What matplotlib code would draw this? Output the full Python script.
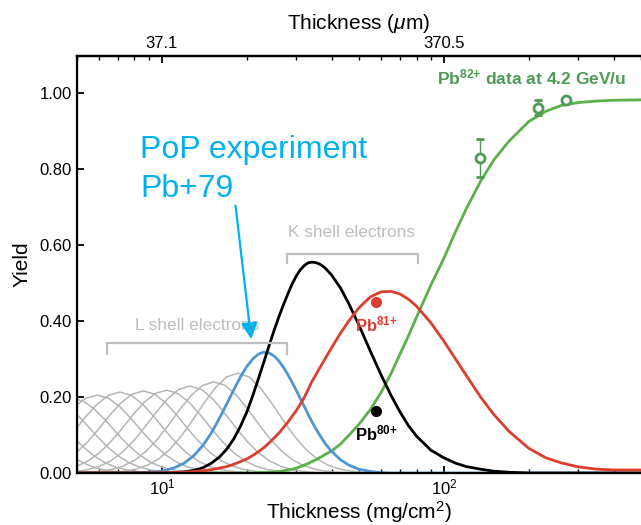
import matplotlib.pyplot as plt
from matplotlib.ticker import NullFormatter, FormatStrFormatter

plt.rcParams['font.family'] = ['Liberation Sans', 'DejaVu Sans']
plt.rcParams['mathtext.fontset'] = 'custom'
plt.rcParams['mathtext.rm'] = 'Liberation Sans'
plt.rcParams['mathtext.it'] = 'Liberation Sans:italic'
plt.rcParams['mathtext.bf'] = 'Liberation Sans:bold'

# thickness grid (mg/cm^2) the charge state curves are read at
thickness = [5, 6, 7, 8, 9, 10, 11, 12, 13, 14, 15, 16, 17, 18, 19, 20, 21, 22, 23, 24, 25, 26,
             27, 28, 29, 30, 31, 32, 33, 34, 35, 36, 37, 38, 40, 43, 46, 50, 55, 60, 65, 70, 75, 80, 90, 100,
             110, 120, 135, 150, 170, 200, 230, 260, 300, 350, 400, 500]

# Pb79+ (blue), Pb80+ (black), Pb81+ (red), Pb82+ (green) fractions
yield_79 = [0, 0, 0, 0.001, 0.002, 0.005, 0.013, 0.026, 0.046, 0.073, 0.106, 0.144, 0.182, 0.219, 0.253,
            0.280, 0.300, 0.313, 0.318, 0.316, 0.308, 0.295,
            0.278, 0.259, 0.238, 0.217, 0.195, 0.175, 0.155, 0.136, 0.119, 0.104, 0.090, 0.077, 0.057,
            0.035, 0.021, 0.010, 0.004, 0.001, 0, 0, 0, 0, 0, 0,
            0, 0, 0, 0, 0, 0, 0, 0, 0, 0, 0, 0]
yield_80 = [0, 0, 0, 0, 0, 0, 0.001, 0.003, 0.007, 0.014, 0.026, 0.042, 0.063, 0.090, 0.123,
            0.160, 0.203, 0.248, 0.292, 0.335, 0.375, 0.411,
            0.443, 0.472, 0.498, 0.519, 0.535, 0.546, 0.553, 0.555, 0.554, 0.551, 0.546, 0.539, 0.521,
            0.487, 0.446, 0.389, 0.319, 0.257, 0.204, 0.160, 0.124, 0.097, 0.060, 0.040,
            0.026, 0.017, 0.010, 0.005, 0.002, 0, 0, 0, 0, 0, 0, 0]
yield_81 = [0, 0, 0, 0, 0, 0.001, 0.001, 0.002, 0.004, 0.006, 0.009, 0.013, 0.017, 0.023, 0.030,
            0.037, 0.046, 0.056, 0.067, 0.079, 0.092, 0.105,
            0.120, 0.134, 0.150, 0.165, 0.182, 0.199, 0.219, 0.240, 0.256, 0.272, 0.287, 0.302, 0.330,
            0.368, 0.400, 0.435, 0.464, 0.477, 0.478, 0.471, 0.457, 0.439, 0.395, 0.347,
            0.300, 0.257, 0.200, 0.155, 0.110, 0.065, 0.040, 0.027, 0.016, 0.010, 0.008, 0.008]
yield_82 = [0, 0, 0, 0, 0, 0, 0, 0, 0, 0, 0, 0, 0, 0, 0,
            0, 0, 0.001, 0.001, 0.002, 0.003, 0.004,
            0.006, 0.008, 0.010, 0.013, 0.017, 0.021, 0.025, 0.030, 0.034, 0.039, 0.044, 0.049, 0.058,
            0.076, 0.099, 0.128, 0.168, 0.213, 0.262, 0.314, 0.362, 0.410, 0.495, 0.565,
            0.635, 0.695, 0.768, 0.823, 0.873, 0.925, 0.952, 0.967, 0.975, 0.979, 0.981, 0.982]

# L shell (grey) curves: peak thickness, peak height and one shared shape
gray_peaks = [2.75, 3.3, 4.0, 4.8, 5.9, 7.1, 8.6, 10.4, 12.6, 15.3, 18.6]
gray_heights = [0.19, 0.19, 0.195, 0.197, 0.205, 0.213, 0.216, 0.218, 0.229, 0.240, 0.263]
gray_offset = [-0.48, -0.44, -0.40, -0.36, -0.32, -0.28, -0.24, -0.20, -0.16, -0.12, -0.08, -0.04, 0,
               0.04, 0.08, 0.12, 0.16, 0.20, 0.24, 0.28, 0.32, 0.36, 0.40, 0.44, 0.48]  # decades
gray_shape = [0.003, 0.008, 0.019, 0.040, 0.079, 0.143, 0.240, 0.371, 0.530, 0.700, 0.853, 0.961, 1.0,
              0.961, 0.853, 0.700, 0.530, 0.371, 0.240, 0.143, 0.079, 0.040, 0.019, 0.008, 0.003]

# measured Pb82+ points
data_x = [134, 215, 271]
data_y = [0.829, 0.961, 0.982]
data_err = [0.05, 0.02, 0.0]

# single points for Pb81+ and Pb80+
dot_x = [57.4, 57.4]
dot_y = [0.45, 0.163]

l_shell_span = [6.38, 27.7]
k_shell_span = [27.7, 80.9]

c_blue = '#4f95d0'
c_red = '#dc3d2f'
c_green = '#5bb04a'
c_green_dark = '#4d9b55'
c_gray = '#b5b5b5'

fig = plt.figure(figsize=(6.41, 5.25), dpi=100)
ax = fig.add_axes([0.120, 0.099, 0.880, 0.794])

for peak, h in zip(gray_peaks, gray_heights):
    ax.plot([peak * 10 ** d for d in gray_offset], [h * s for s in gray_shape], color=c_gray, lw=1.1)

ax.plot(thickness, yield_82, color=c_green, lw=2.0)
ax.plot(thickness, yield_79, color=c_blue, lw=2.0)
ax.plot(thickness, yield_80, color='black', lw=2.0)
ax.plot(thickness, yield_81, color=c_red, lw=2.0)

ax.errorbar(data_x, data_y, yerr=data_err, fmt='o', mfc='white', mec=c_green_dark, mew=2,
            ms=6.5, ecolor=c_green_dark, elinewidth=1, capsize=3, zorder=5)
ax.plot(dot_x[0], dot_y[0], 'o', color=c_red, ms=7, zorder=5)
ax.plot(dot_x[1], dot_y[1], 'o', color='black', ms=7, zorder=5)
ax.text(dot_x[0], dot_y[0] - 0.032, 'Pb$^{\\mathbf{81{+}}}$', color=c_red, fontsize=12, fontweight='bold',
        ha='center', va='top')
ax.text(dot_x[1], dot_y[1] - 0.032, 'Pb$^{\\mathbf{80{+}}}$', color='black', fontsize=12, fontweight='bold',
        ha='center', va='top')
ax.text(205, 1.042, 'Pb$^{\\mathbf{82{+}}}$ data at 4.2 GeV/u', color=c_green_dark, fontsize=12.5,
        fontweight='bold', ha='center', va='center')

# shell brackets
ax.plot([l_shell_span[0], l_shell_span[0], l_shell_span[1], l_shell_span[1]], [0.313, 0.342, 0.342, 0.313],
        color='#bfbfbf', lw=1.6)
ax.plot([k_shell_span[0], k_shell_span[0], k_shell_span[1], k_shell_span[1]], [0.553, 0.576, 0.576, 0.553],
        color='#bfbfbf', lw=1.6)
ax.text(13.3, 0.387, 'L shell electrons', color='#bdbdbd', fontsize=12.4, ha='center', va='center')
ax.text(47.2, 0.632, 'K shell electrons', color='#bdbdbd', fontsize=12.4, ha='center', va='center')

# PoP annotation
ax.text(8.36, 0.829, 'PoP experiment', color='#00b0f0', fontsize=23, ha='left', va='baseline')
ax.text(8.36, 0.726, 'Pb+79', color='#00b0f0', fontsize=23, ha='left', va='baseline')
ax.annotate('', xy=(20.8, 0.345), xytext=(18.2, 0.711),
            arrowprops=dict(arrowstyle='-|>', color='#00b0f0', lw=1.6, mutation_scale=24))

ax.set_xscale('log')
ax.set_xlim(5, 500)
ax.set_ylim(0, 1.097)
ax.set_yticks([0, 0.2, 0.4, 0.6, 0.8, 1.0])
ax.yaxis.set_major_formatter(FormatStrFormatter('%.2f'))
ax.xaxis.set_minor_formatter(NullFormatter())
ax.set_xlabel('Thickness (mg/cm$^2$)', fontsize=15, labelpad=1)
ax.set_ylabel('Yield', fontsize=15, labelpad=6)
ax.tick_params(which='both', direction='in', labelsize=12)
ax.tick_params(which='major', length=5, width=1.3)
ax.tick_params(which='minor', length=3, width=1)
ax.spines['right'].set_visible(False)
for s in ['left', 'bottom', 'top']:
    ax.spines[s].set_linewidth(1.6)

top = ax.twiny()
top.set_xscale('log')
top.set_xlim(5, 500)
top.set_xticks([10, 100])
top.set_xticklabels(['37.1', '370.5'])
top.xaxis.set_minor_formatter(NullFormatter())
top.set_xlabel('Thickness ($\\mu$m)', fontsize=15, labelpad=5)
top.tick_params(which='both', direction='in', labelsize=12)
top.tick_params(which='major', length=5, width=1.3)
top.tick_params(which='minor', length=3, width=1)
top.spines['right'].set_visible(False)
top.spines['top'].set_linewidth(1.6)

plt.savefig('out.png', dpi=100)
